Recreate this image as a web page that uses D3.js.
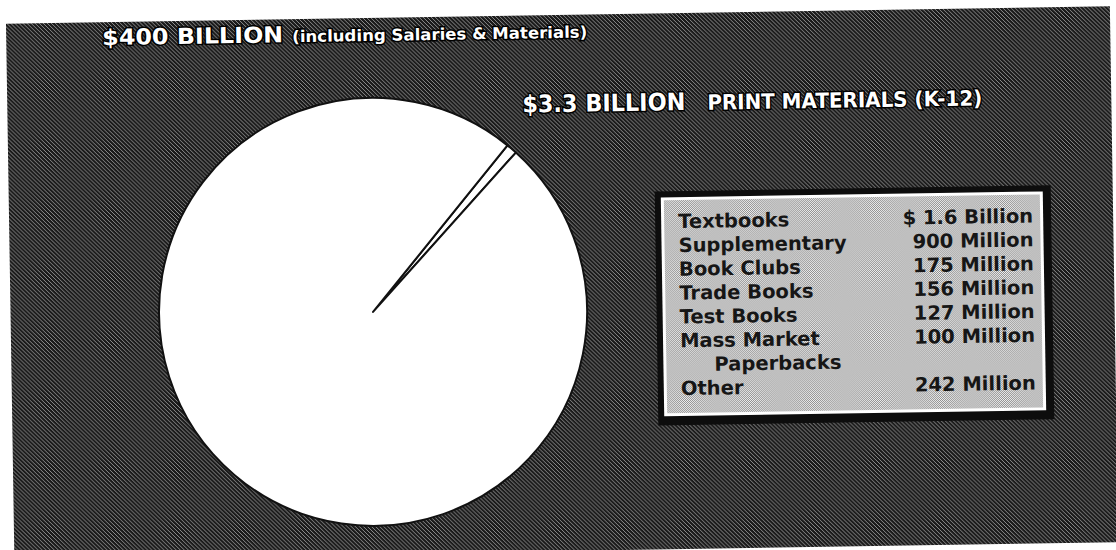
<!DOCTYPE html>
<html><head><meta charset="utf-8">
<script src="https://cdn.jsdelivr.net/npm/d3@7"></script>
<style>html,body{margin:0;padding:0;background:#fff;overflow:hidden}svg{display:block}</style>
</head><body>
<svg id="chart" width="1116" height="550"></svg>
<script>
// Headline figures (billions of dollars)
const totalLabel = "$400 BILLION";
const totalNote = "(including Salaries & Materials)";
const printLabel = "$3.3 BILLION";
const printNote = "PRINT MATERIALS (K-12)";
const sliceNames = ["Print materials (K-12)", "Salaries & other spending"];
const sliceValues = [3.3, 396.7];

// Breakdown of print materials
const categories = [["Textbooks"], ["Supplementary"], ["Book Clubs"], ["Trade Books"], ["Test Books"], ["Mass Market", "Paperbacks"], ["Other"]];
const amountsMillions = [1600, 900, 175, 156, 127, 100, 242];
const amountLabels = ["$ 1.6 Billion", "900 Million", "175 Million", "156 Million", "127 Million", "100 Million", "242 Million"];

const W = 1116, H = 550;
const svg = d3.select("#chart");
const defs = svg.append("defs");

// coarse halftone texture for the dark backdrop
const bgTex = defs.append("pattern").attr("id", "bgTex")
  .attr("patternUnits", "userSpaceOnUse").attr("width", 4).attr("height", 4);
bgTex.append("rect").attr("width", 4).attr("height", 4).attr("fill", "#1a1a1a");
bgTex.append("path").attr("d", "M-1,-1L5,5M-1,3L1,5M3,-1L5,1")
  .attr("stroke", "#8e8e8e").attr("stroke-width", 1);

// fine light screen for the legend panel
const boxTex = defs.append("pattern").attr("id", "boxTex")
  .attr("patternUnits", "userSpaceOnUse").attr("width", 2).attr("height", 2);
boxTex.append("rect").attr("width", 2).attr("height", 2).attr("fill", "#f0f0f0");
boxTex.append("rect").attr("width", 1).attr("height", 1).attr("fill", "#8e8e8e");
boxTex.append("rect").attr("x", 1).attr("y", 1).attr("width", 1).attr("height", 1).attr("fill", "#8e8e8e");

// the whole sheet sits slightly tilted
const g = svg.append("g").attr("transform", "rotate(-0.9 558 275)");

g.append("rect").attr("x", 10).attr("y", 15).attr("width", 1104).attr("height", 536)
  .attr("fill", "url(#bgTex)");

// ---- pie ----
const cx = 372.5, cy = 309, R = 214;
const startDeg = 39.8;
const pie = d3.pie().sort(null).value(d => d)
  .startAngle(startDeg * Math.PI / 180)
  .endAngle(startDeg * Math.PI / 180 + 2 * Math.PI);
const arc = d3.arc().innerRadius(0).outerRadius(R);

g.append("g").attr("transform", `translate(${cx},${cy})`)
  .selectAll("path").data(pie(sliceValues)).join("path")
  .attr("d", arc)
  .attr("fill", "#ffffff")
  .attr("stroke", "#111")
  .attr("stroke-width", 2)
  .attr("stroke-linejoin", "round")
  .append("title").text((d, i) => sliceNames[i]);

// ---- headings ----
const heading = (txt, x, y, size, len) => g.append("text")
  .attr("x", x).attr("y", y)
  .attr("font-family", "'DejaVu Sans', sans-serif")
  .attr("font-weight", "bold")
  .attr("font-size", size)
  .attr("fill", "#fff")
  .attr("stroke", "#000").attr("stroke-width", 3)
  .attr("paint-order", "stroke")
  .attr("textLength", len).attr("lengthAdjust", "spacingAndGlyphs")
  .text(txt);

heading(totalLabel, 106, 38, 22, 181);
heading(totalNote, 296, 38, 16, 295);
heading(printLabel, 525, 112, 24, 163);
heading(printNote, 710, 112, 21, 275);

// ---- legend panel ----
const bx = 662, by = 199, bw = 382, bh = 219;
g.append("rect").attr("x", bx - 6).attr("y", by - 6).attr("width", bw + 14).attr("height", bh + 15)
  .attr("fill", "#0d0d0d");
g.append("rect").attr("x", bx).attr("y", by).attr("width", bw).attr("height", bh)
  .attr("fill", "#ffffff");
g.append("rect").attr("x", bx + 3).attr("y", by + 3).attr("width", bw - 6).attr("height", bh - 6)
  .attr("fill", "url(#boxTex)");

// one text line per row; wrapped names continue indented
const rows = [];
categories.forEach((lines, i) => {
  lines.forEach((t, j) => rows.push({ name: t, indent: j > 0, amount: j === 0 ? amountLabels[i] : "" }));
});

const rowY = d3.scalePoint().domain(d3.range(rows.length)).range([230, 397]);
const leg = g.append("g")
  .attr("font-family", "'DejaVu Sans', sans-serif")
  .attr("font-weight", "bold")
  .attr("font-size", 19.5)
  .attr("fill", "#161616");

leg.selectAll("text.name").data(rows).join("text").attr("class", "name")
  .attr("x", d => d.indent ? 713 : 679)
  .attr("y", (d, i) => rowY(i))
  .text(d => d.name);

leg.selectAll("text.amt").data(rows.filter(r => r.amount)).join("text").attr("class", "amt")
  .attr("x", 1034)
  .attr("y", d => rowY(rows.indexOf(d)))
  .attr("text-anchor", "end")
  .text(d => d.amount);
</script>
</body></html>
